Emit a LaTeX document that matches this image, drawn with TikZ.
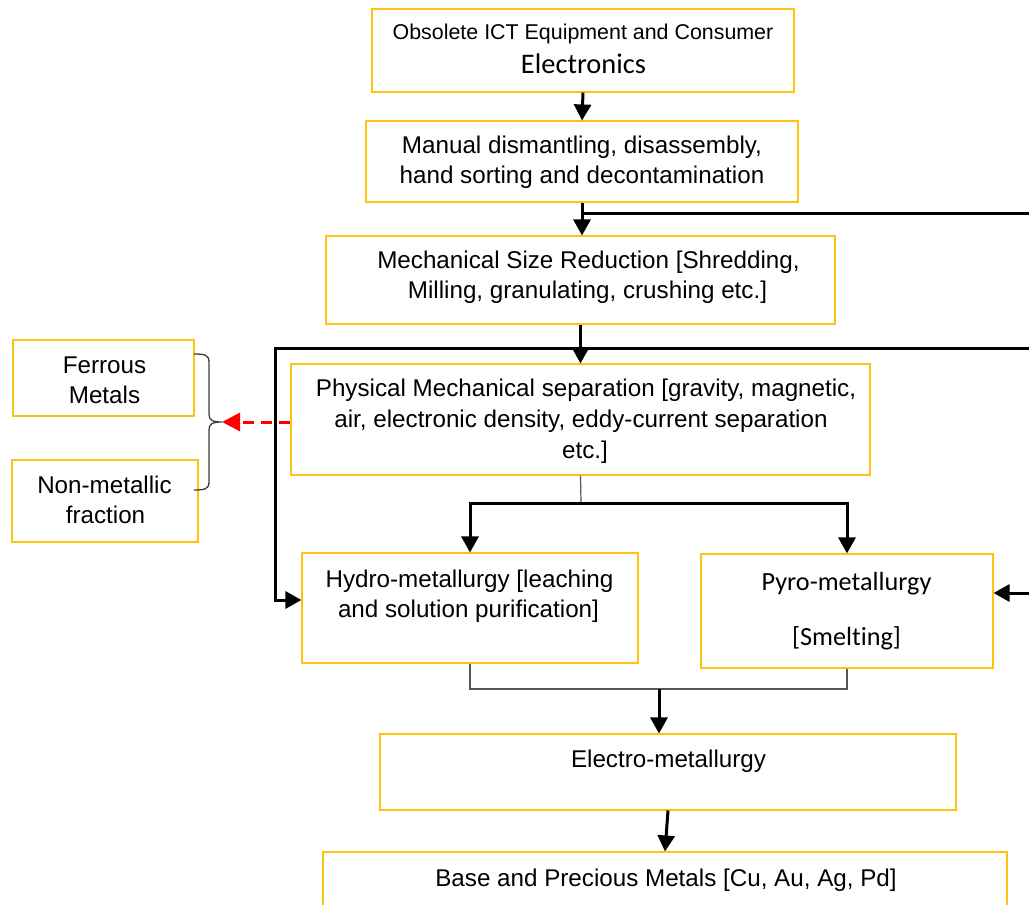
\documentclass[tikz,border=0pt]{standalone}
\usepackage{fontspec}
\setmainfont{Liberation Sans}
\newfontfamily\calfont[Ligatures=NoCommon]{Carlito}
\usetikzlibrary{arrows.meta,calc}
\definecolor{boxgold}{RGB}{255,194,14}
\definecolor{linkgray}{RGB}{85,85,85}
\definecolor{bracegray}{RGB}{60,60,60}
\begin{document}
\begin{tikzpicture}[x=1pt,y=-1pt,
  box/.style={draw=boxgold, line width=1.1pt, inner sep=0pt},
  txt/.style={inner sep=0pt, anchor=base, font=\fontsize{24.2}{30}\selectfont},
  smalltxt/.style={inner sep=0pt, anchor=base, font=\fontsize{21.4}{26}\selectfont},
  caltxt/.style={inner sep=0pt, anchor=base, font=\calfont\fontsize{26.2}{30}\selectfont},
  bigcal/.style={inner sep=0pt, anchor=base, font=\calfont\fontsize{28.4}{32}\selectfont},
  tip/.tip={Triangle[length=16pt 0 0,width=17pt 0 0]},
  flow/.style={line width=3pt, -tip},
  trunk/.style={line width=3pt},
  link/.style={draw=linkgray, line width=1.2pt},
  bracepath/.style={draw=bracegray, line width=1.3pt},
  sepflow/.style={draw=red, line width=3pt, dash pattern=on 11pt off 7pt,
    -{Triangle[length=18pt 0 0,width=18pt 0 0]}}
]
\useasboundingbox (0,0) rectangle (1029,905);
\fill[white] (0,0) rectangle (1029,905);
\clip (0,0) rectangle (1029,905);

% process boxes
\node[box, minimum width=422pt, minimum height=83pt]  (src)     at (583,50.5) {};
\node[box, minimum width=432pt, minimum height=81pt]  (manual)  at (582,161.5) {};
\node[box, minimum width=509pt, minimum height=88pt]  (mech)    at (580.5,280) {};
\node[box, minimum width=579pt, minimum height=111pt] (phys)    at (580.5,419.5) {};
\node[box, minimum width=181pt, minimum height=76pt]  (ferrous) at (103.5,378) {};
\node[box, minimum width=186pt, minimum height=82pt]  (nonmet)  at (105,501) {};
\node[box, minimum width=336pt, minimum height=110pt] (hydro)   at (470,608) {};
\node[box, minimum width=292pt, minimum height=114pt] (pyro)    at (847,611) {};
\node[box, minimum width=576pt, minimum height=76pt]  (electro) at (668,772) {};
\node[box, minimum width=684pt, minimum height=80pt]  (base)    at (665,892) {};

% box texts
\node[smalltxt] (src1) at (583,39) {Obsolete ICT Equipment and Consumer};
\node[bigcal]   (src2) at (583.5,73) {Electronics};
\node[txt] (man1) at (582,153) {Manual dismantling, disassembly,};
\node[txt] (man2) at (582,183) {hand sorting and decontamination};
\node[txt] (mech1) at (588.5,268) {Mechanical Size Reduction [Shredding,};
\node[txt] (mech2) at (587.5,298) {Milling, granulating, crushing etc.]};
\node[txt] (phys1) at (586,396.5) {Physical Mechanical separation [gravity, magnetic,};
\node[txt] (phys2) at (581,427) {air, electronic density, eddy-current separation};
\node[txt] (phys3) at (585,458) {etc.]};
\node[txt] (fer1) at (104.5,373) {Ferrous};
\node[txt] (fer2) at (104.5,403) {Metals};
\node[txt] (non1) at (104.5,493) {Non-metallic};
\node[txt] (non2) at (105.5,523) {fraction};
\node[txt] (hyd1) at (469.5,587) {Hydro-metallurgy [leaching};
\node[txt] (hyd2) at (468.5,617) {and solution purification]};
\node[caltxt] (pyr1) at (846.5,590) {Pyro-metallurgy};
\node[caltxt] (pyr2) at (846.5,645) {[Smelting]};
\node[txt] (ele1) at (668.5,767) {Electro-metallurgy};
\node[txt] (bas1) at (666,886) {Base and Precious Metals [Cu, Au, Ag, Pd]};

% junction and edge points
\coordinate (edgeA) at (1029,213);
\coordinate (edgeB) at (1029,348);
\coordinate (edgeC) at (1029,593);
\coordinate (bendB) at (275,348);
\coordinate (hyBend) at (275,600);
\coordinate (split) at (581,503);
\coordinate (merge) at (659,689);
\coordinate (brTip) at (222,422);

% main flow
\draw[flow] (src.south) -- (manual.north);
\draw[flow] (manual.south) -- (manual.south |- mech.north);
\draw[trunk] (manual.south |- edgeA) -- (edgeA);
\draw[flow] (mech.south) -- (phys.north);
\draw[flow] (edgeB) -- (bendB) -- (hyBend) -- (hyBend -| hydro.west);

% split to hydro / pyro
\draw[link] (phys.south) -- (split);
\draw[trunk, tip-tip] (hydro.north) |- (split) -| (pyro.north);
\draw[flow] (edgeC) -- (edgeC -| pyro.east);

% merge into electro-metallurgy
\draw[link] (hydro.south) |- (merge) -| (pyro.south);
\draw[flow] (merge) -- (merge |- electro.north);
\draw[flow] (electro.south) -- (base.north);

% brace grouping the separated fractions
\draw[bracepath] (194,354) .. controls (205,354) and (209,355) .. (209,362)
  -- (209,414) .. controls (209,420) and (212,422) .. (brTip)
  .. controls (212,422) and (209,424) .. (209,430)
  -- (209,482) .. controls (209,489) and (205,490) .. (194,490);
\draw[sepflow] (phys.west |- brTip) -- (brTip);
\end{tikzpicture}
\end{document}
